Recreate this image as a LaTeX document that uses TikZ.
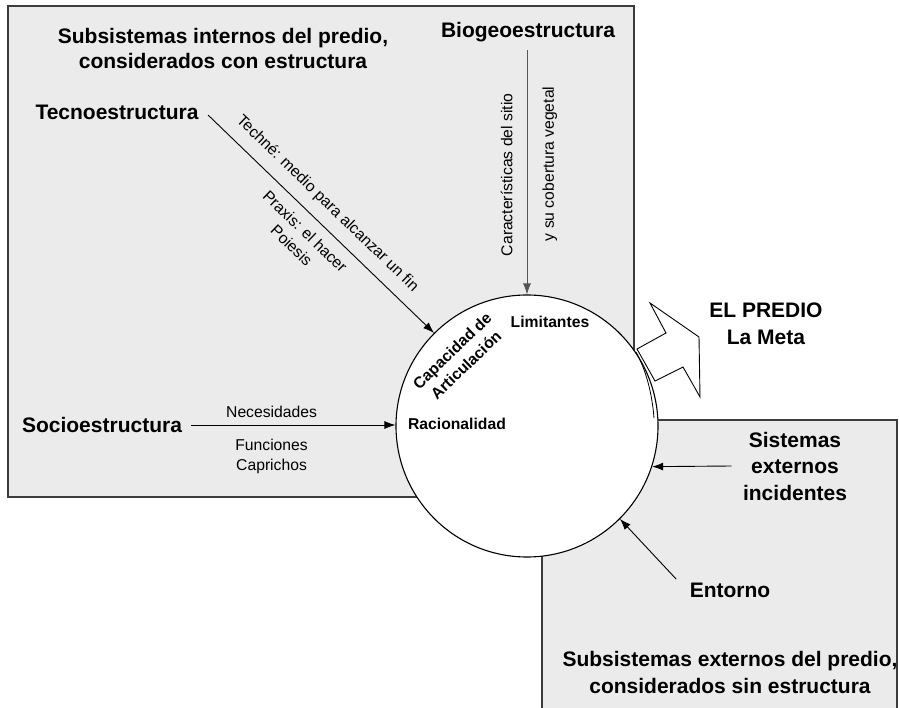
\documentclass[tikz,border=0pt]{standalone}
\usepackage{fontspec}
\setmainfont{Liberation Sans}
\usetikzlibrary{arrows.meta}

\definecolor{boxgray}{RGB}{235,235,235}
\definecolor{edgegray}{RGB}{60,60,60}
\definecolor{linegray}{RGB}{85,85,85}

\begin{document}
\begin{tikzpicture}[x=1pt,y=-1pt,
                titulo/.style={font=\fontsize{21}{26.5}\selectfont\bfseries, align=center},
                interno/.style={font=\fontsize{15.7}{19.8}\selectfont\bfseries, align=center},
                etiqueta/.style={font=\fontsize{15.7}{19.5}\selectfont, align=center},
                flecha/.style={-{Latex[length=11pt,width=8pt]}, line width=0.9pt},
                caja/.style={fill=boxgray, draw=edgegray, line width=1.1pt}]
                \useasboundingbox (0,0) rectangle (899,708);
                \clip (0,0) rectangle (899,708);

                \draw[caja] (8,6) rectangle (634,497);
                \draw[caja] (542,420) rectangle (897,730);

                \node[circle, draw, fill=white, line width=1.1pt, minimum size=262pt, inner sep=0pt] (predio) at (527,426) {};
                \draw[line width=0.8pt] (636,352) .. controls (646,370) and (652,393) .. (654,418);

                \draw[fill=white, line width=0.9pt] (650,303) -- (666,333) -- (637,349) -- (655,381)
                    -- (683,367) -- (700,397) -- (699,337) -- cycle;

                \node[titulo, font=\fontsize{21}{25}\selectfont\bfseries] (internos) at (223,48) {Subsistemas internos del predio,\\considerados con estructura};
                \node[titulo] (biogeo) at (528,32) {Biogeoestructura};
                \node[titulo] (tecno) at (117,112) {Tecnoestructura};
                \node[titulo] (socio) at (102,425) {Socioestructura};
                \node[titulo] (meta) at (766,324) {EL PREDIO\\La Meta};
                \node[titulo] (sistemas) at (795,466) {Sistemas\\externos\\incidentes};
                \node[titulo] (entorno) at (730,590) {Entorno};
                \node[titulo, font=\fontsize{21}{27}\selectfont\bfseries] (externos) at (730,672) {Subsistemas externos del predio,\\considerados sin estructura};

                \node[interno] (limitantes) at (550,322) {Limitantes};
                \node[interno] (racionalidad) at (457,424) {Racionalidad};
                \node[interno, rotate=44] (capacidad) at (459,358) {Capacidad de\\Articulación};

                \draw[flecha] ([shift={(6,3)}]tecno.east) -- (predio.135)
                    node[pos=.47, sloped, above, inner sep=11pt, etiqueta] {Techné: medio para alcanzar un fin}
                    node[pos=.48, sloped, below, inner sep=10pt, etiqueta] {Praxis: el hacer\\Poiesis};
                \draw[flecha, draw=linegray, shorten <=5pt] (biogeo.south -| predio.north) -- (predio.north)
                    node[pos=.52, rotate=90, anchor=south, inner sep=14pt, etiqueta] {Características del sitio}
                    node[pos=.476, rotate=90, anchor=north, inner sep=15pt, etiqueta] {y su cobertura vegetal};
                \draw[flecha, shorten <=6pt] (socio.east) -- (socio.east -| predio.west)
                    node[pos=.41, above, inner sep=7pt, etiqueta] {Necesidades}
                    node[pos=.41, below, inner sep=14pt, etiqueta] {Funciones\\Caprichos};
                \draw[flecha] ([xshift=-8pt]sistemas.west) -- (predio.-18);
                \draw[flecha] ([xshift=-10pt]entorno.north west) -- (predio.-45);
            \end{tikzpicture}
\end{document}
